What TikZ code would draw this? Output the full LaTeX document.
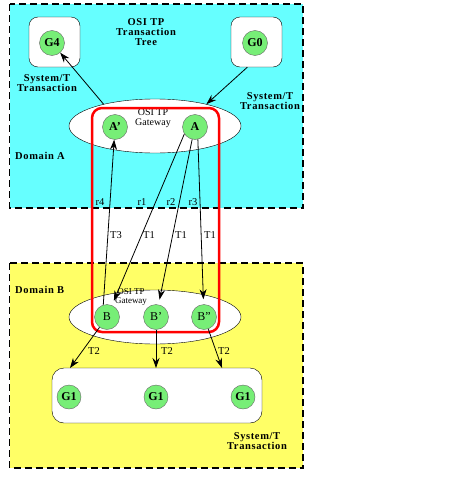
\documentclass[tikz,border=0pt]{standalone}
\usepackage{fontspec}
\setmainfont{Liberation Serif}
\newfontfamily\lblfont[LetterSpace=6]{Liberation Serif}
\usetikzlibrary{arrows.meta,shapes.geometric}
\definecolor{domcyan}{RGB}{102,255,255}
\definecolor{domyellow}{RGB}{255,255,102}
\definecolor{entgreen}{RGB}{119,238,119}
\tikzset{
  domainbox/.style={draw, line width=1.1pt, dash pattern=on 7pt off 4pt},
  sysbox/.style={draw, fill=white, rounded corners=9pt, inner sep=0pt},
  gway/.style={draw, fill=white, ellipse, inner sep=0pt, minimum width=172pt, minimum height=54pt},
  ent/.style={circle, draw=black!60, fill=entgreen, inner sep=0pt, minimum size=25pt, font=\bfseries\fontsize{12}{12}\selectfont},
  entb/.style={ent, font=\fontsize{12}{12}\selectfont},
  tag/.style={font=\fontsize{10.5}{10.5}\selectfont, inner sep=0pt},
  titletext/.style={font=\lblfont\bfseries\fontsize{10.5}{10}\selectfont, align=center, inner sep=0pt},
  link/.style={-{Stealth[length=10pt,width=7pt]}, line width=0.8pt}
}
\begin{document}
\begin{tikzpicture}[x=1pt,y=-1pt]
\useasboundingbox (0,0) rectangle (456,479);
% domains
\draw[domainbox, fill=domcyan] (9.5,4) rectangle (303,208);
\draw[domainbox, fill=domyellow] (9.5,263) rectangle (303,468);
% system/T boxes
\node[sysbox, minimum width=51pt, minimum height=50pt] (g4box) at (54.5,42) {};
\node[sysbox, minimum width=51pt, minimum height=50pt] (g0box) at (256.5,42) {};
\node[sysbox, rounded corners=12pt, minimum width=210pt, minimum height=55pt] (g1box) at (157,395.5) {};
% gateways
\node[gway] (gwA) at (155,126) {};
\node[gway] (gwB) at (155,317) {};
\node[tag, align=center, font=\fontsize{10}{10}\selectfont] (lblA) at (153,118) {OSI TP\\Gateway};
\node[tag, align=center, font=\fontsize{9}{8.5}\selectfont] (lblB) at (131,297) {OSI TP\\Gateway};
% association
\draw[red, line width=2.5pt, rounded corners=10pt] (92,108) rectangle (219,332);
% entities
\node[ent] (G4) at (52,43) {G4};
\node[ent] (G0) at (255,43) {G0};
\node[ent] (Ap) at (115,127) {A'};
\node[ent] (A) at (195,127) {A};
\node[entb] (B) at (107,317) {B};
\node[entb] (Bp) at (156,317) {B'};
\node[entb] (Bpp) at (204,317) {B''};
\node[ent, minimum size=24pt] (G1a) at (69,397) {G1};
\node[ent, minimum size=24pt] (G1b) at (156,397) {G1};
\node[ent, minimum size=24pt] (G1c) at (243,397) {G1};
\coordinate (t2a) at (70,368);
\coordinate (t2b) at (156,368);
\coordinate (t2c) at (222,368);
% links
\draw[link] (gwA.157) -- (G4);
\draw[link] (g0box.-110) -- (gwA.23);
\draw[link] (B.107) -- (Ap);
\draw[link, shorten >=5pt] (A.-147) -- (B);
\draw[link, shorten >=5pt] (A.-103) -- (Bp);
\draw[link, shorten >=5pt] (A.-77) -- (Bpp);
\draw[link] (B) -- (t2a);
\draw[link] (Bp) -- (t2b);
\draw[link] (Bpp) -- (t2c);
% labels
\node[tag] (r4) at (100,202) {r4};
\node[tag] (r1) at (142,202) {r1};
\node[tag] (r2) at (171,202) {r2};
\node[tag] (r3) at (193,202) {r3};
\node[tag] (T3) at (116,235) {T3};
\node[tag] (T1a) at (149,235) {T1};
\node[tag] (T1b) at (181,235) {T1};
\node[tag] (T1c) at (210,235) {T1};
\node[tag] (T2a) at (94,351) {T2};
\node[tag] (T2b) at (167,351) {T2};
\node[tag] (T2c) at (224,351) {T2};
\node[titletext] (tree) at (146,32) {OSI TP\\Transaction\\Tree};
\node[titletext] (sysl) at (47,83) {System/T\\Transaction};
\node[titletext] (sysr) at (270,101) {System/T\\Transaction};
\node[titletext] (sysb) at (257,441.5) {System/T\\Transaction};
\node[titletext, anchor=west] (domA) at (15,156) {Domain A};
\node[titletext, anchor=west] (domB) at (15,290) {Domain B};
\end{tikzpicture}
\end{document}
